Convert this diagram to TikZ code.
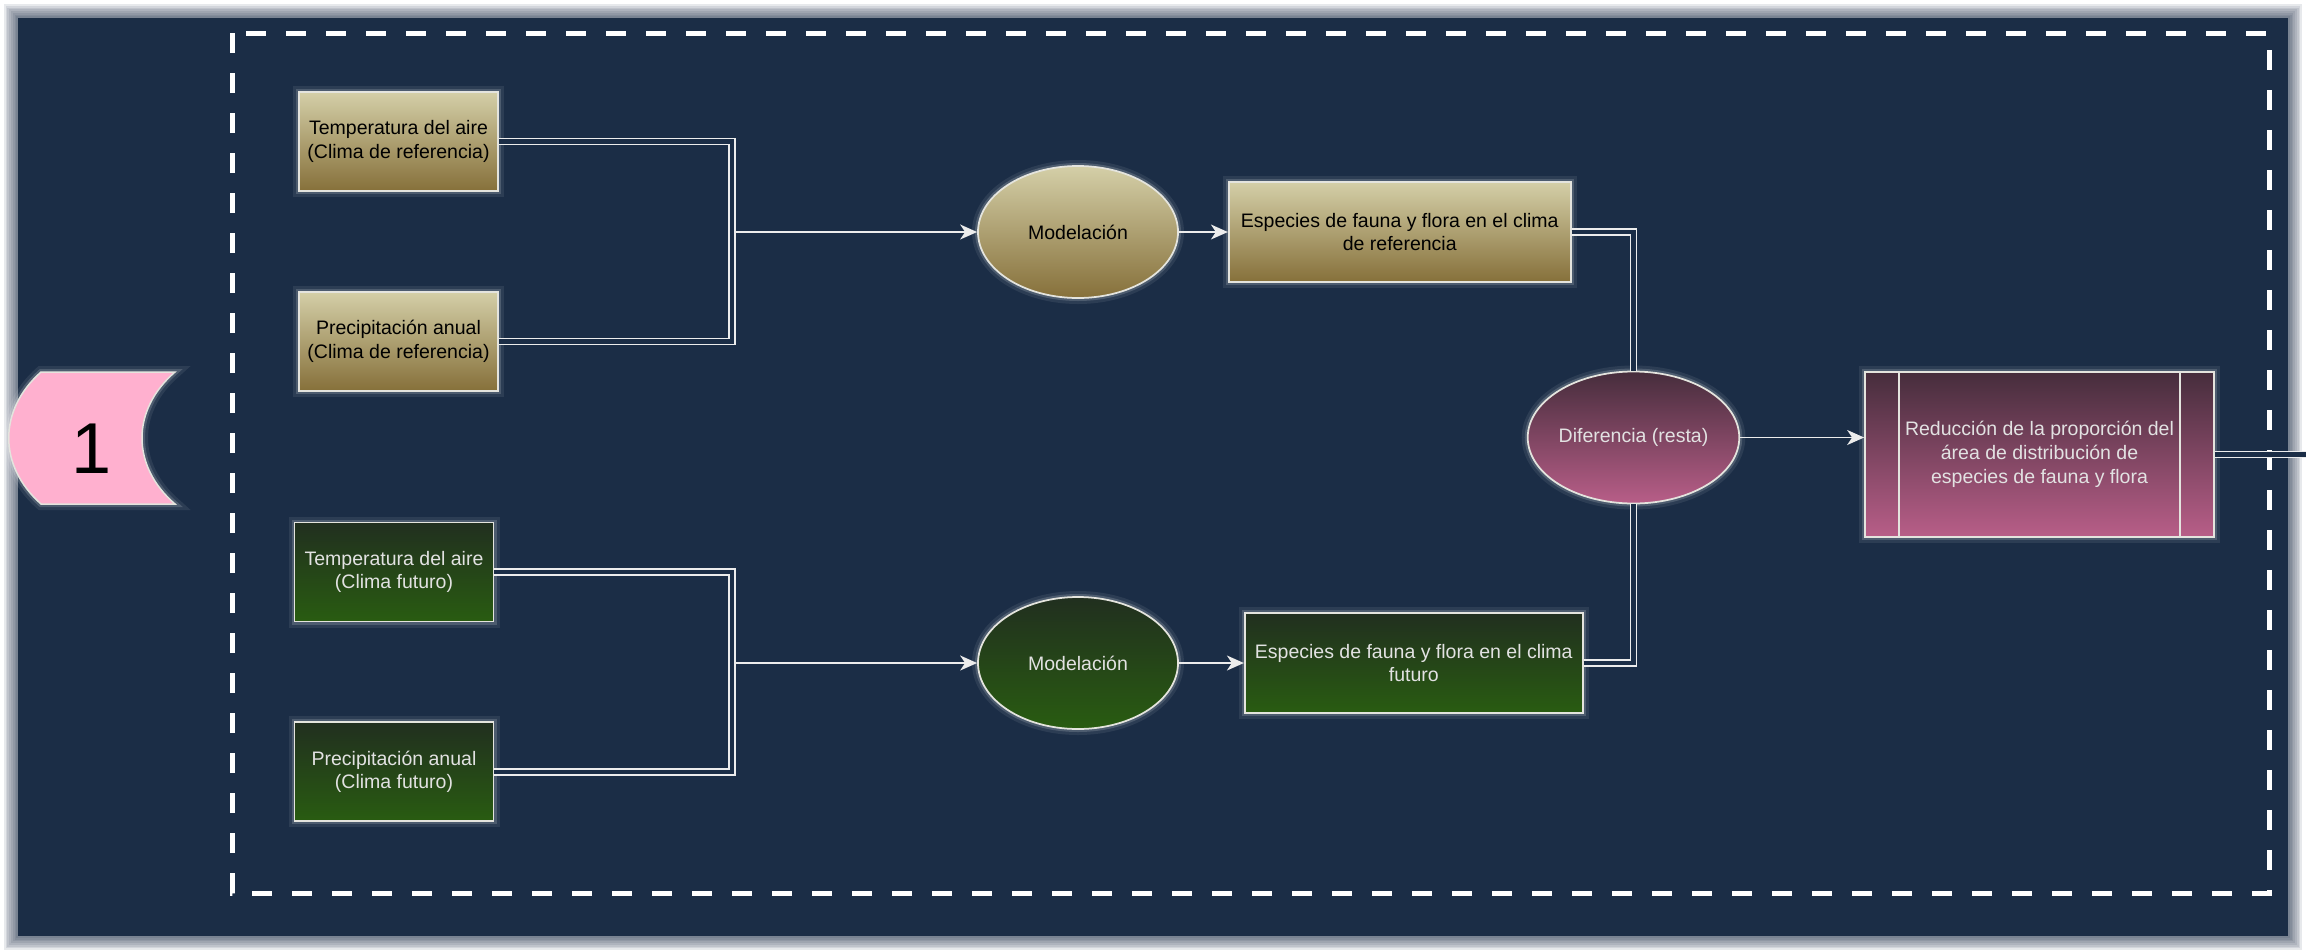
\documentclass[tikz,border=0pt]{standalone}
\usepackage{fontspec}
\setsansfont{Liberation Sans}
\usetikzlibrary{positioning, arrows.meta, shapes.geometric}

\definecolor{bgnavy}{RGB}{27,45,70}
\definecolor{edgegray}{RGB}{228,228,222}
\definecolor{linkwhite}{RGB}{236,236,236}
\definecolor{lighttext}{RGB}{226,226,226}
\definecolor{tantop}{RGB}{212,207,168}
\definecolor{tanbot}{RGB}{134,112,58}
\definecolor{greentop}{RGB}{33,47,31}
\definecolor{greenbot}{RGB}{41,92,17}
\definecolor{mauvetop}{RGB}{70,45,60}
\definecolor{mauvebot}{RGB}{184,94,136}
\definecolor{pinkone}{RGB}{255,176,207}

\begin{document}
\begin{tikzpicture}[
    x=0.2mm, y=-0.2mm,
    font=\sffamily\fontsize{11.1pt}{13.5pt}\selectfont, % Arial-like labels
    % --- STYLES ---
    glow/.style={
        preaction={draw=white, draw opacity=0.08, line width=2.4mm},
        preaction={draw=white, draw opacity=0.16, line width=1.2mm}
    },
    input_box/.style={rectangle, draw=edgegray, line width=0.35mm, glow,
        minimum width=39.8mm, minimum height=19.8mm, align=center, inner sep=1pt},
    model_node/.style={ellipse, draw=edgegray, line width=0.35mm, glow,
        minimum width=40mm, minimum height=26.4mm, align=center, inner sep=0pt},
    species_box/.style={rectangle, draw=edgegray, line width=0.35mm, glow,
        minimum height=20mm, align=center, inner sep=1pt},
    ref_fill/.style={top color=tantop, bottom color=tanbot, text=black},
    fut_fill/.style={top color=greentop, bottom color=greenbot, text=lighttext},
    diff_fill/.style={top color=mauvetop, bottom color=mauvebot, text=lighttext},
    link_line/.style={draw=linkwhite, line width=0.3mm, double=bgnavy, double distance=0.9mm},
    arrow_style/.style={draw=linkwhite, line width=0.3mm,
        -{Stealth[length=3.4mm, width=3mm, inset=1mm]}},
    frame_style/.style={draw=white, line width=1mm, dash pattern=on 4mm off 4mm}
]
\useasboundingbox (0,0) rectangle (2306,949);

% --- BACKGROUND ---
\fill[white] (0,0) rectangle (2306,949);
\foreach \w in {1,...,8}
    \draw[bgnavy, draw opacity=0.10, line width=\w*0.7mm] (18,18) rectangle (2288,936);
\fill[bgnavy] (18,18) rectangle (2288,936);
\draw[frame_style] (232,33) rectangle (2269,893);

% --- STEP MARKER ---
\draw[draw=edgegray, line width=0.3mm, fill=pinkone, glow]
    (41,372) -- (175,372) .. controls (131,410) and (131,466) .. (175,504)
    -- (41,504) .. controls (-2,466) and (-2,410) .. (41,372) -- cycle;
\node[font=\sffamily\fontsize{41pt}{41pt}\selectfont, inner sep=0pt] (num_one) at (92,449) {1};

% --- REFERENCE CLIMATE (upper row) ---
\coordinate (ref_start) at (398.5,141.5);
\node[input_box, ref_fill] (t_ref) at (ref_start) {Temperatura del aire\\(Clima de referencia)};
\node[input_box, ref_fill, below=19.8mm of t_ref] (p_ref) {Precipitación anual\\(Clima de referencia)};
\node[model_node, ref_fill] (mod_ref) at (1078,232) {Modelación};
\node[species_box, ref_fill, minimum width=68.4mm, right=9.8mm of mod_ref] (esp_ref)
    {Especies de fauna y flora en el clima\\de referencia};

% --- FUTURE CLIMATE (lower row) ---
\coordinate (fut_start) at (394,572);
\node[input_box, fut_fill] (t_fut) at (fut_start) {Temperatura del aire\\(Clima futuro)};
\node[input_box, fut_fill, below=19.8mm of t_fut] (p_fut) {Precipitación anual\\(Clima futuro)};
\node[model_node, fut_fill] (mod_fut) at (1078,663) {Modelación};
\node[species_box, fut_fill, minimum width=67.6mm, right=13mm of mod_fut] (esp_fut)
    {Especies de fauna y flora en el clima\\futuro};

% --- DIFFERENCE AND RESULT ---
\node[model_node, diff_fill] (dif) at (1633.5,437.5) {Diferencia (resta)};
\node[rectangle, draw=edgegray, line width=0.35mm, glow, diff_fill,
    minimum width=69.8mm, minimum height=33mm, align=center, inner sep=0pt]
    (red_box) at (2039.5,454.5)
    {Reducción de la proporción del\\área de distribución de\\especies de fauna y flora};
\draw[edgegray, line width=0.3mm] ([xshift=7mm]red_box.north west) -- ([xshift=7mm]red_box.south west);
\draw[edgegray, line width=0.3mm] ([xshift=-7mm]red_box.north east) -- ([xshift=-7mm]red_box.south east);

% --- CONNECTORS ---
\coordinate (j_ref) at (732,232);
\coordinate (j_fut) at (732,663);
\coordinate (out_edge) at (2306,454.5);

\draw[arrow_style] (j_ref) -- (mod_ref.west);
\draw[arrow_style] (j_fut) -- (mod_fut.west);
\draw[link_line] (t_ref.east) -| (j_ref) |- (p_ref.east);
\draw[link_line] (t_fut.east) -| (j_fut) |- (p_fut.east);

\draw[arrow_style] (mod_ref.east) -- (esp_ref.west);
\draw[arrow_style] (mod_fut.east) -- (esp_fut.west);

\draw[link_line] (esp_ref.east) -| (dif.north);
\draw[link_line] (esp_fut.east) -| (dif.south);

\draw[arrow_style] (dif.east) -- (dif.east -| red_box.west);
\draw[link_line] (red_box.east) -- (out_edge);

\end{tikzpicture}
\end{document}
